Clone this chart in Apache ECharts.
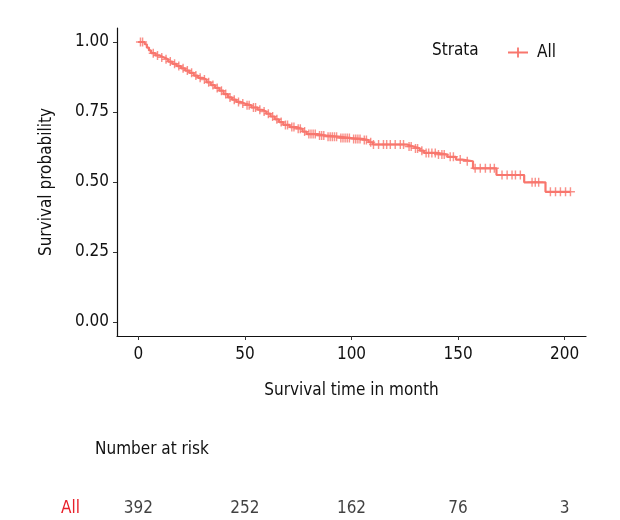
<!DOCTYPE html>
<html>
<head>
<meta charset="utf-8">
<script src="https://cdn.jsdelivr.net/npm/echarts@6/dist/echarts.min.js"></script>
<style>
  html, body { margin: 0; padding: 0; background: #fff; }
  #chart { width: 620px; height: 520px; }
</style>
</head>
<body>
<div id="chart"></div>
<script>
const FONT = "'Liberation Sans Narrow', 'DejaVu Sans Condensed', 'Noto Sans', sans-serif";
const CURVE_COLOR = '#F8766D';

// Kaplan-Meier steps: survival holds from eventTimes[i] until the next time
const eventTimes = [0, 3, 4, 5, 6, 8, 10, 12, 14, 16, 18, 20, 22, 24, 26, 28, 30, 32, 34, 36, 38, 40, 42, 44, 46, 48, 50,
  53, 56, 58, 60, 62, 64, 66, 68, 71, 74, 77, 79, 84, 88, 94, 100, 105, 108, 110, 126, 129, 132, 134, 140, 145,
  149, 152, 157, 168, 181, 191, 202.7];
const survival = [1.0, 0.992, 0.98, 0.97, 0.96, 0.952, 0.945, 0.938, 0.93, 0.922, 0.914, 0.906, 0.898, 0.89, 0.88,
  0.872, 0.866, 0.856, 0.846, 0.836, 0.826, 0.814, 0.802, 0.794, 0.786, 0.78, 0.774, 0.766, 0.758, 0.752, 0.744,
  0.734, 0.724, 0.714, 0.704, 0.696, 0.69, 0.68, 0.671, 0.666, 0.662, 0.657, 0.654, 0.65, 0.642, 0.634, 0.627,
  0.62, 0.612, 0.604, 0.598, 0.59, 0.58, 0.574, 0.549, 0.525, 0.499, 0.465, 0.465];

// censored observations (+ marks)
const censorTimes = [1, 2, 7, 9, 11, 13, 15, 17, 19, 21, 23, 25, 27, 29, 31, 33, 35, 37, 39, 41, 43, 45, 47, 49, 51,
  52, 54, 55, 57, 59, 61, 63, 65, 67, 69, 70, 72, 73, 75, 76, 78, 80, 81, 82, 83, 85, 86, 87, 89, 90, 91, 92, 93,
  95, 96, 97, 98, 99, 101, 102, 103, 104, 106, 107, 109, 110.3, 112.7, 115, 116.5, 118.2, 120.5, 122.9, 124.4,
  127, 128, 130, 131, 133, 135, 136.2, 137.7, 139.3, 140.8, 142.4, 143.5, 146.3, 147.8, 151, 154.3, 158, 160.4,
  162.8, 165.1, 167, 170.6, 173, 175.3, 176.9, 179.2, 184.7, 186.2, 187.8, 193.3, 195.7, 198, 200.4, 202.7];

// number at risk table
const riskTimes = [0, 50, 100, 150, 200];
const riskCounts = [392, 252, 162, 76, 3];
const xTicks = [0, 50, 100, 150, 200];
const yTicks = [0, 0.25, 0.5, 0.75, 1];

const survivalAt = (t) => {
  let s = survival[0];
  for (let i = 0; i < eventTimes.length; i++) {
    if (eventTimes[i] <= t) s = survival[i];
  }
  return s;
};

const curveData = eventTimes.map((t, i) => [t, survival[i]]);
const censorData = censorTimes.map((t) => [t, survivalAt(t)]);
const riskData = riskTimes.map((t, i) => [t, 'All', riskCounts[i]]);

const plusPath = 'path://M0,4.1H9.1V0H10.9V4.1H20V5.9H10.9V10H9.1V5.9H0Z';
const crossPath = 'path://M0,4.2H4.2V0H5.8V4.2H10V5.8H5.8V10H4.2V5.8H0Z';

const textBase = { fontFamily: FONT, color: '#111', fontSize: 17 };

const chart = echarts.init(document.getElementById('chart'), null, { renderer: 'canvas' });
chart.setOption({
  backgroundColor: '#fff',
  animation: false,
  title: [
    { text: 'Strata', left: 427, top: 37, textStyle: { ...textBase, fontWeight: 'normal' } },
    { text: 'Number at risk', left: 90, top: 436, textStyle: { ...textBase, fontWeight: 'normal' } },
  ],
  legend: {
    data: [{ name: 'All', icon: plusPath }],
    left: 503,
    top: 39,
    itemWidth: 20,
    itemHeight: 10,
    textStyle: { ...textBase, padding: [0, 0, 0, 4] },
  },
  grid: [
    { left: 117, right: 34, top: 28, bottom: 184 },
    { left: 117, right: 34, top: 498, height: 28 },
  ],
  xAxis: [
    {
      type: 'value',
      gridIndex: 0,
      min: -10,
      max: 210,
      name: 'Survival time in month',
      nameLocation: 'middle',
      nameGap: 46,
      nameTextStyle: { ...textBase },
      axisLine: { show: true, onZero: false, lineStyle: { color: '#111', width: 1.2 } },
      axisTick: { show: true, length: 4, customValues: xTicks, lineStyle: { color: '#333' } },
      axisLabel: { ...textBase, margin: 10, customValues: xTicks },
      splitLine: { show: false },
    },
    {
      type: 'value',
      gridIndex: 1,
      min: -10,
      max: 210,
      show: false,
    },
  ],
  yAxis: [
    {
      type: 'value',
      gridIndex: 0,
      min: -0.05,
      max: 1.05,
      name: 'Survival probability',
      nameLocation: 'middle',
      nameRotate: 90,
      nameGap: 62,
      nameTextStyle: { ...textBase },
      axisLine: { show: true, onZero: false, lineStyle: { color: '#111', width: 1.2 } },
      axisTick: { show: true, length: 4, customValues: yTicks, lineStyle: { color: '#333' } },
      axisLabel: {
        ...textBase,
        margin: 8,
        customValues: yTicks,
        formatter: (v) => v.toFixed(2),
      },
      splitLine: { show: false },
    },
    {
      type: 'category',
      gridIndex: 1,
      data: ['All'],
      axisLine: { show: false },
      axisTick: { show: false },
      axisLabel: { ...textBase, color: '#E8202A', margin: 37 },
    },
  ],
  series: [
    {
      name: 'All',
      type: 'line',
      step: 'end',
      xAxisIndex: 0,
      yAxisIndex: 0,
      data: curveData,
      showSymbol: false,
      symbol: 'none',
      color: CURVE_COLOR,
      lineStyle: { color: CURVE_COLOR, width: 2.2 },
    },
    {
      name: 'All',
      type: 'scatter',
      xAxisIndex: 0,
      yAxisIndex: 0,
      data: censorData,
      symbol: crossPath,
      symbolSize: 9,
      itemStyle: { color: CURVE_COLOR },
      silent: true,
    },
    {
      name: 'risk',
      type: 'scatter',
      xAxisIndex: 1,
      yAxisIndex: 1,
      data: riskData,
      symbolSize: 1,
      itemStyle: { color: 'transparent' },
      label: {
        show: true,
        position: 'inside',
        formatter: (p) => String(p.value[2]),
        ...textBase,
        color: '#111',
      },
      silent: true,
    },
  ],
});
</script>
</body>
</html>
